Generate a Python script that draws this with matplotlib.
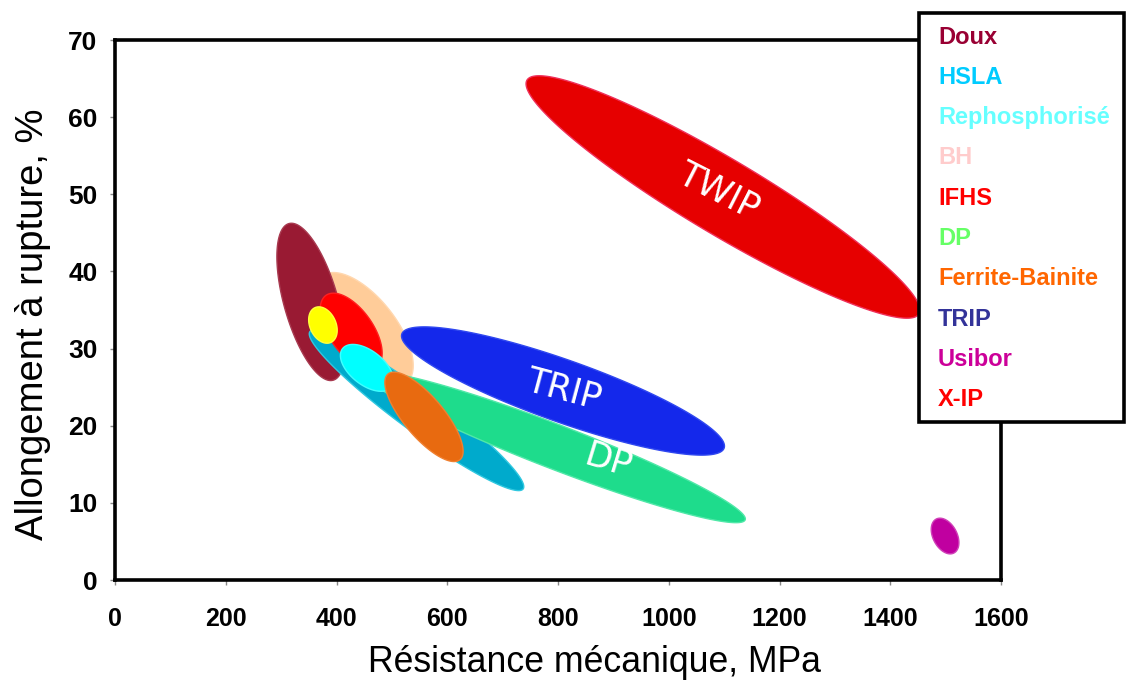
import numpy as np
import matplotlib
matplotlib.use("Agg")
import matplotlib.pyplot as plt
from matplotlib.patches import Polygon, Rectangle

# ---------------- data ----------------
# each grade domain: ends of the main axis (strength MPa, elongation %)
grades = ["TWIP", "BH", "Doux", "HSLA", "IFHS", "IF", "TRIP", "DP",
          "Rephosphorisé", "Ferrite-Bainite", "Usibor"]
rm_start = [744, 374, 314, 352, 381, 361, 518, 457, 411, 493, 1483]
el_start = [64.8, 39.4, 46.2, 32.2, 36.9, 35.3, 31.9, 26.6, 30.0, 26.7, 7.9]
rm_end = [1452, 526, 394, 737, 472, 390, 1100, 1138, 499, 623, 1515]
el_end = [34.5, 25.5, 25.9, 11.8, 27.6, 30.8, 17.1, 7.8, 25.0, 15.6, 3.5]

band_labels = ["TWIP", "TRIP", "DP"]
label_rm = [1089, 811, 890]
label_el = [50.3, 24.6, 15.4]

legend_labels = ["Doux", "HSLA", "Rephosphorisé", "BH", "IFHS", "DP",
                 "Ferrite-Bainite", "TRIP", "Usibor", "X-IP"]

x_ticks = [0, 200, 400, 600, 800, 1000, 1200, 1400, 1600]
y_ticks = [0, 10, 20, 30, 40, 50, 60, 70]

x_title = "Résistance mécanique, MPa"
y_title = "Allongement à rupture, %"

# ---------------- style ----------------
half_width_px = [37.5, 32, 27, 20, 22, 13, 31, 22, 17, 20, 12]
face_colors = ["#E60000", "#FFCC99", "#991A33", "#00AACC", "#FF0000", "#FFFF00",
               "#1428EB", "#1EDC8C", "#00FFFF", "#E86A10", "#C000A0"]
edge_colors = ["#F0305A", "#FFD8B0", "#A83A50", "#30C8E0", "#FF2020", "#FFFF40",
               "#3048F0", "#50E8A8", "#40FFFF", "#F08030", "#D040B8"]
label_rot = [-27, -15, -17]
legend_colors = ["#990033", "#00CCFF", "#66FFFF", "#FFCCCC", "#FF0000", "#66FF66",
                 "#FF6600", "#333399", "#CC0099", "#FF0000"]

W, H = 1127, 686
fig = plt.figure(figsize=(W / 100, H / 100), dpi=100)
ax = fig.add_axes([115 / W, 1 - 580 / H, (1001 - 115) / W, (580 - 40) / H])
ax.set_xlim(0, 1600)
ax.set_ylim(0, 70)


def ellipse_points(x1, y1, x2, y2, hw_px, n=300):
    p1 = ax.transData.transform((x1, y1))
    p2 = ax.transData.transform((x2, y2))
    c = (p1 + p2) / 2
    d = p2 - p1
    a = np.hypot(d[0], d[1]) / 2
    ang = np.arctan2(d[1], d[0])
    b = hw_px * fig.dpi / 100
    t = np.linspace(0, 2 * np.pi, n)
    xs, ys = a * np.cos(t), b * np.sin(t)
    pts = np.column_stack([c[0] + xs * np.cos(ang) - ys * np.sin(ang),
                           c[1] + xs * np.sin(ang) + ys * np.cos(ang)])
    return ax.transData.inverted().transform(pts)


for i in range(len(grades)):
    pts = ellipse_points(rm_start[i], el_start[i], rm_end[i], el_end[i], half_width_px[i])
    ax.add_patch(Polygon(pts, closed=True, facecolor=face_colors[i],
                         edgecolor=edge_colors[i], linewidth=1.0, zorder=2 + i * 0.01))

for lab, x, y, r in zip(band_labels, label_rm, label_el, label_rot):
    ax.text(x, y, lab, color="white", fontsize=25, family="DejaVu Sans",
            rotation=r, rotation_mode="anchor", ha="center", va="center", zorder=5)

# axes styling
for s in ax.spines.values():
    s.set_linewidth(2.6)
    s.set_color("black")
ax.set_xticks(x_ticks)
ax.set_yticks(y_ticks)
ax.set_xticklabels([str(v) for v in x_ticks], fontsize=18, fontweight="bold",
                   family="Liberation Sans")
ax.set_yticklabels([str(v) for v in y_ticks], fontsize=19, fontweight="bold",
                   family="Liberation Sans")
ax.tick_params(axis="x", direction="out", length=3.6, width=1, color="#888888", pad=16)
ax.tick_params(axis="y", direction="out", length=3.6, width=1, color="#888888", pad=9)

fig.text(595 / W, 1 - 662 / H, x_title, ha="center", va="center",
         fontsize=25.7, family="Liberation Sans")
fig.text(33 / W, 1 - 324 / H, y_title, ha="center", va="center", rotation=90,
         fontsize=27.5, family="Liberation Sans")

# legend box
fig.patches.append(Rectangle((919 / W, 1 - 422 / H), (1124 - 919) / W, (422 - 13) / H,
                             transform=fig.transFigure, facecolor="white",
                             edgecolor="black", linewidth=2.6, zorder=10))
for k, (lab, col) in enumerate(zip(legend_labels, legend_colors)):
    fig.text(938 / W, 1 - (37 + k * 40.3) / H, lab, color=col, fontsize=17,
             fontweight="bold", family="Liberation Sans", ha="left", va="center",
             zorder=11)

fig.savefig("out.png", dpi=100)
